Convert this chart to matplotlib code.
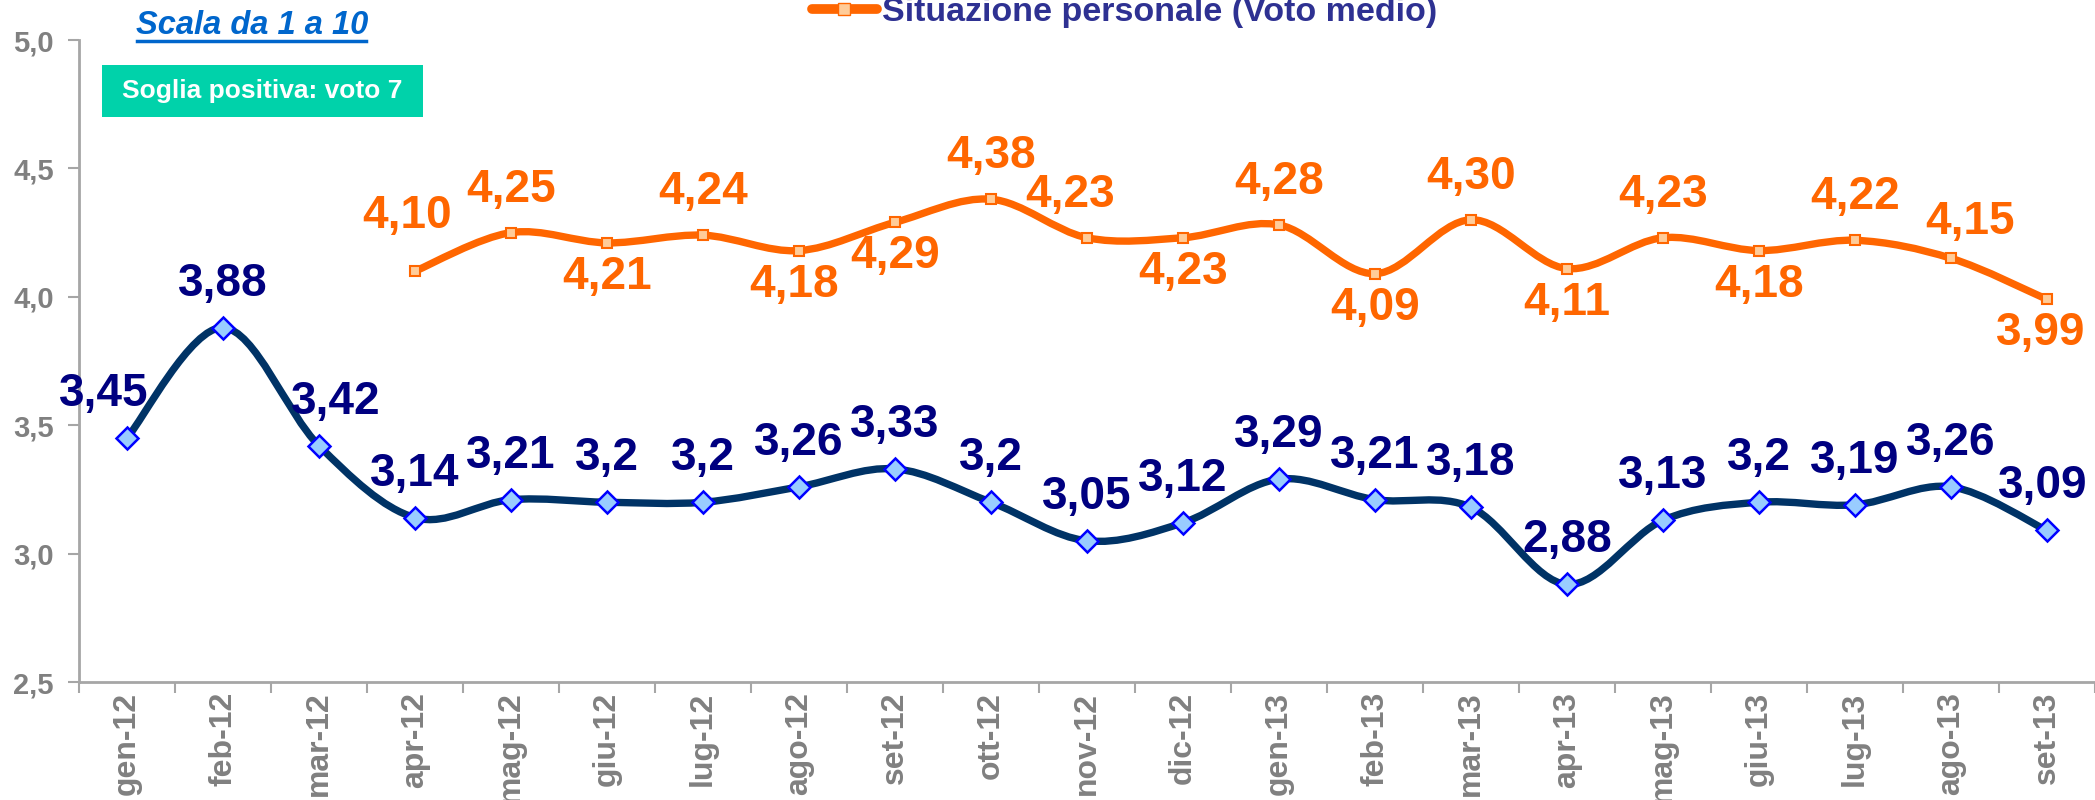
import matplotlib
matplotlib.use("Agg")
import matplotlib.pyplot as plt
import numpy as np
from matplotlib.path import Path
from matplotlib.patches import PathPatch, Rectangle
from matplotlib.lines import Line2D

months = ["gen-12", "feb-12", "mar-12", "apr-12", "mag-12", "giu-12", "lug-12",
          "ago-12", "set-12", "ott-12", "nov-12", "dic-12", "gen-13", "feb-13",
          "mar-13", "apr-13", "mag-13", "giu-13", "lug-13", "ago-13", "set-13"]
blue_values = [3.45, 3.88, 3.42, 3.14, 3.21, 3.2, 3.2, 3.26, 3.33, 3.2, 3.05,
               3.12, 3.29, 3.21, 3.18, 2.88, 3.13, 3.2, 3.19, 3.26, 3.09]
orange_start = 3  # orange series begins at apr-12
orange_values = [4.10, 4.25, 4.21, 4.24, 4.18, 4.29, 4.38, 4.23, 4.23, 4.28,
                 4.09, 4.30, 4.11, 4.23, 4.18, 4.22, 4.15, 3.99]
y_ticks = [2.5, 3.0, 3.5, 4.0, 4.5, 5.0]
y_tick_labels = ["2,5", "3,0", "3,5", "4,0", "4,5", "5,0"]
legend_label = "Situazione personale (Voto medio)"
scale_text = "Scala da 1 a 10"
threshold_text = "Soglia positiva: voto 7"

# label placement (style): pixel offsets
blue_offsets = {0: (-23, 44), 2: (17, 44), 20: (-4, 44)}
orange_side = ["up", "up", "down", "up", "down", "down", "up", "up", "down", "up",
               "down", "up", "down", "up", "down", "up", "up", "down"]
orange_dx = {0: -8, 4: -5, 7: -17, 16: 19, 17: -6}

BLUE_LINE = "#003366"
ORANGE = "#FF6600"
LABEL_BLUE = "#000080"
GRAY = "#808080"
AXIS_GRAY = "#A6A6A6"
FONT = "Liberation Sans"

plt.rcParams["font.family"] = [FONT, "DejaVu Sans"]

fig = plt.figure(figsize=(20.95, 8.0), dpi=100)
ax = fig.add_axes([79 / 2095, 1 - 682 / 800, 1 - 79 / 2095, (682 - 40) / 800])


def smooth_path(xs, ys):
    pts = np.column_stack([xs, ys]).astype(float)
    n = len(pts)
    verts = [pts[0]]
    codes = [Path.MOVETO]
    for i in range(n - 1):
        p0 = pts[i - 1] if i > 0 else pts[i]
        p1 = pts[i]
        p2 = pts[i + 1]
        p3 = pts[i + 2] if i + 2 < n else pts[i + 1]
        c1 = p1 + (p2 - p0) / 6.0
        c2 = p2 - (p3 - p1) / 6.0
        verts += [c1, c2, p2]
        codes += [Path.CURVE4] * 3
    return Path(verts, codes)


xb = np.arange(len(blue_values))
xo = np.arange(orange_start, orange_start + len(orange_values))

ax.add_patch(PathPatch(smooth_path(xb, blue_values), fill=False, edgecolor=BLUE_LINE,
                       lw=5.3, capstyle="round", joinstyle="round", zorder=3))
ax.add_patch(PathPatch(smooth_path(xo, orange_values), fill=False, edgecolor=ORANGE,
                       lw=5.3, capstyle="round", joinstyle="round", zorder=3))
ax.plot(xb, blue_values, ls="none", marker="D", ms=11.5, mfc="#99CCFF", mec="#0000FF",
        mew=1.8, zorder=4)
ax.plot(xo, orange_values, ls="none", marker="s", ms=7.5, mfc="#FFCC99", mec=ORANGE,
        mew=1.5, zorder=4)

for i, v in enumerate(blue_values):
    dx, dy = blue_offsets.get(i, (0, 44))
    ax.annotate(f"{v:g}".replace(".", ","), (xb[i], v), xytext=(dx, dy),
                textcoords="offset pixels", ha="center", va="center",
                fontsize=33, fontweight="bold", color=LABEL_BLUE, zorder=5)

for j, v in enumerate(orange_values):
    dy = 43 if orange_side[j] == "up" else -34
    if j == 0:
        dy = 55
    if j == 16:
        dy = 36
    dx = orange_dx.get(j, 0)
    ax.annotate(f"{v:.2f}".replace(".", ","), (xo[j], v), xytext=(dx, dy),
                textcoords="offset pixels", ha="center", va="center",
                fontsize=33, fontweight="bold", color=ORANGE, zorder=5)

ax.set_xlim(-0.5, len(months) - 0.5)
ax.set_ylim(2.5, 5.0)
ax.set_yticks(y_ticks)
ax.set_yticklabels(y_tick_labels)
ax.set_xticks(np.arange(len(months) + 1) - 0.5)
ax.set_xticklabels([])
ax.set_xticks(np.arange(len(months)), minor=True)
ax.set_xticklabels(months, minor=True, rotation=90)
ax.tick_params(axis="x", which="minor", length=0, pad=7)
ax.tick_params(axis="x", which="major", length=8, width=1.5, color=AXIS_GRAY, direction="out")
ax.tick_params(axis="y", length=8, width=1.5, color=AXIS_GRAY, direction="out", pad=10)
for lab in ax.get_xticklabels(minor=True):
    lab.set_fontsize(23)
    lab.set_fontweight("bold")
    lab.set_color(GRAY)
for lab in ax.get_yticklabels():
    lab.set_fontsize(21)
    lab.set_fontweight("bold")
    lab.set_color(GRAY)
for s in ["top", "right"]:
    ax.spines[s].set_visible(False)
for s in ["left", "bottom"]:
    ax.spines[s].set_color(AXIS_GRAY)
    ax.spines[s].set_linewidth(2)

# "Scala da 1 a 10"
fig.text(252 / 2095, 1 - 26 / 800, scale_text, ha="center", va="center", fontsize=23.5,
         fontweight="bold", fontstyle="italic", color="#0066CC")
fig.add_artist(Line2D([137 / 2095, 366 / 2095], [1 - 41 / 800, 1 - 41 / 800],
                      color="#0066CC", lw=2.5))

# threshold box
fig.add_artist(Rectangle((102 / 2095, 1 - 117 / 800), 321 / 2095, 52 / 800,
                         facecolor="#00D2AA", edgecolor="none"))
fig.text(262 / 2095, 1 - 91 / 800, threshold_text, ha="center", va="center",
         fontsize=19, fontweight="bold", color="white")

# legend (partially clipped at top)
handle = Line2D([], [], color=ORANGE, lw=7, marker="s", ms=9, mfc="#FFCC99", mec=ORANGE,
                solid_capstyle="round")
fig.legend([handle], [legend_label], loc="center left",
           bbox_to_anchor=(812 / 2095, 1 - 12 / 800), frameon=False,
           handlelength=1.9, handletextpad=0.15, borderpad=0, borderaxespad=0,
           prop={"weight": "bold", "size": 24.5}, labelcolor="#2E3192")

fig.savefig("out.png", dpi=100)
